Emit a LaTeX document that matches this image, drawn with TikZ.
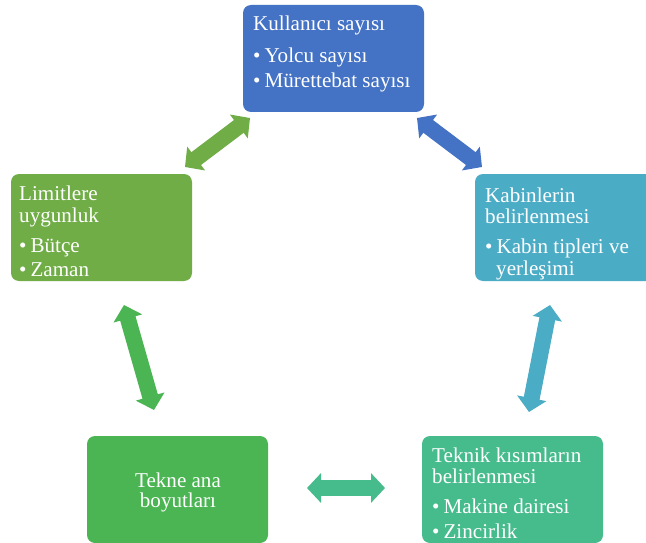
\documentclass[tikz,border=0pt]{standalone}
\usepackage{fontspec}
\setmainfont{Liberation Serif}
\newfontfamily\trfont{Liberation Serif}
\usetikzlibrary{arrows.meta}
\definecolor{cblue}{HTML}{4472C4}
\definecolor{cgreenA}{HTML}{70AD47}
\definecolor{cteal}{HTML}{4BACC6}
\definecolor{cgreenB}{HTML}{4AB552}
\definecolor{cgreenC}{HTML}{46BC8D}
\newcommand{\blt}[1]{\textbullet\hspace{4pt}#1}
\tikzset{
  boxnode/.style={rounded corners=8pt, minimum width=181pt, minimum height=107pt, anchor=north west, inner sep=0pt, outer sep=0pt},
  txt/.style={anchor=base west, inner sep=0pt, text=white, font=\trfont\fontsize{21.1}{24}\selectfont},
  ctxt/.style={anchor=base, inner sep=0pt, text=white, font=\trfont\fontsize{21.1}{24}\selectfont},
  blockarrow/.style={line width=16pt, {Triangle[length=14pt,width=29pt]}-{Triangle[length=14pt,width=29pt]}}
}
\begin{document}
\begin{tikzpicture}[x=1pt,y=-1pt]
\clip (0,0) rectangle (646,543);
\fill[white] (0,0) rectangle (646,543);
% boxes
\node[boxnode, fill=cblue]   (top)   at (243,5)   {};
\node[boxnode, fill=cgreenA] (left)  at (11,174)  {};
\node[boxnode, fill=cteal]   (right) at (475,174) {};
\node[boxnode, fill=cgreenB] (bl)    at (87,436)  {};
\node[boxnode, fill=cgreenC] (br)    at (422,436) {};
% texts
\node[txt] (t1) at (253,31) {Kullanıcı sayısı};
\node[txt] (t2) at (253,63) {\blt{Yolcu sayısı}};
\node[txt] (t3) at (253,88) {\blt{Mürettebat sayısı}};
\node[txt] (l1) at (19,200) {Limitlere};
\node[txt] (l2) at (19,222) {uygunluk};
\node[txt] (l3) at (19,252) {\blt{Bütçe}};
\node[txt] (l4) at (19,276) {\blt{Zaman}};
\node[txt] (r1) at (485,202) {Kabinlerin};
\node[txt] (r2) at (485,223) {belirlenmesi};
\node[txt] (r3) at (485,253) {\blt{Kabin tipleri ve}};
\node[txt] (r4) at (496,275) {yerleşimi};
\node[txt] (b1) at (432,462) {Teknik kısımların};
\node[txt] (b2) at (432,483) {belirlenmesi};
\node[txt] (b3) at (432,513) {\blt{Makine dairesi}};
\node[txt] (b4) at (432,538) {\blt{Zincirlik}};
\node[ctxt] (k1) at (178,487) {Tekne ana};
\node[ctxt] (k2) at (178,507) {boyutları};
% arrow end points
\coordinate (a1s) at (185,167); \coordinate (a1e) at (250,118);
\coordinate (a2s) at (417,118); \coordinate (a2e) at (482,167);
\coordinate (a3s) at (550,305); \coordinate (a3e) at (529,412);
\coordinate (a4s) at (385,488); \coordinate (a4e) at (307,488);
\coordinate (a5s) at (154,410); \coordinate (a5e) at (124,305);
\draw[blockarrow, draw=cgreenA, fill=cgreenA] (a1s) -- (a1e);
\draw[blockarrow, draw=cblue, fill=cblue] (a2s) -- (a2e);
\draw[blockarrow, draw=cteal, fill=cteal] (a3s) -- (a3e);
\draw[blockarrow, draw=cgreenC, fill=cgreenC] (a4s) -- (a4e);
\draw[blockarrow, draw=cgreenB, fill=cgreenB] (a5s) -- (a5e);
\end{tikzpicture}
\end{document}
